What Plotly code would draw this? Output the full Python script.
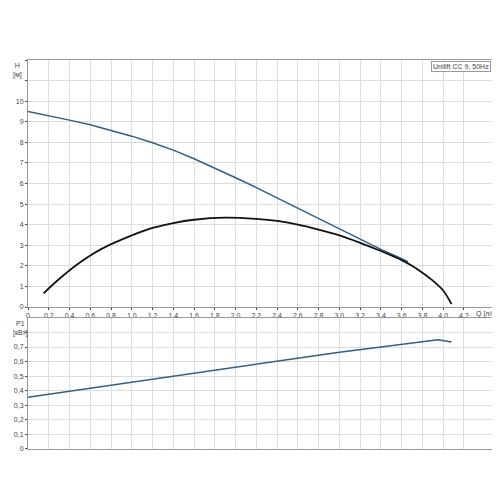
import plotly.graph_objects as go

q_h = [0, 0.2, 0.4, 0.6, 0.8, 1.0, 1.2, 1.4, 1.6, 1.8, 2.0, 2.2, 2.4, 2.6, 2.8, 3.0, 3.2, 3.4, 3.6, 3.66]
h_vals = [9.5, 9.3, 9.08, 8.85, 8.58, 8.3, 7.98, 7.62, 7.2, 6.75, 6.28, 5.8, 5.3, 4.8, 4.3, 3.8, 3.3, 2.8, 2.35, 2.2]

q_eta = [0.15, 0.3, 0.5, 0.7, 1.0, 1.2, 1.4, 1.6, 1.9, 2.2, 2.4, 2.6, 2.8, 3.0, 3.2, 3.4, 3.6, 3.7, 3.8, 3.9, 4.0, 4.08]
eta_vals = [3.3, 6.8, 10.8, 14.0, 17.4, 19.2, 20.4, 21.2, 21.7, 21.4, 20.9, 20.0, 18.8, 17.4, 15.6, 13.6, 11.4, 10.0, 8.3, 6.4, 4.0, 0.7]

q_p = [0, 1.0, 2.0, 3.0, 3.95, 4.08]
p_vals = [0.355, 0.46, 0.565, 0.665, 0.75, 0.735]

xt = [round(0.2 * i, 1) for i in range(22)]
xt_text = [("0" if v == 0 else f"{v:.1f}".replace(".", ",")) for v in xt]

font = dict(family="Liberation Sans, Arial", size=7, color="#444")
fig = go.Figure()
fig.add_trace(go.Scatter(x=q_h, y=h_vals, mode="lines", line=dict(color="#2f5f86", width=1.5), xaxis="x", yaxis="y"))
fig.add_trace(go.Scatter(x=q_eta, y=eta_vals, mode="lines", line=dict(color="#111", width=1.8, shape="spline"), xaxis="x", yaxis="y2"))
fig.add_trace(go.Scatter(x=q_p, y=p_vals, mode="lines", line=dict(color="#2f5f86", width=1.5), xaxis="x2", yaxis="y3"))

grid = dict(showgrid=True, gridcolor="#dcdcdc", gridwidth=1, zeroline=False, showline=True, linecolor="#999", linewidth=1, automargin=False)
fig.update_layout(
    width=500, height=500, showlegend=False, plot_bgcolor="white", paper_bgcolor="white",
    margin=dict(l=20, r=15, t=52, b=59, autoexpand=False), font=font,
    xaxis=dict(range=[0, 4.48], domain=[0, 1], anchor="y", tickvals=xt, ticktext=xt_text, ticks="outside", ticklen=2, mirror=True, **grid),
    yaxis=dict(range=[0, 12], domain=[0.365, 1], tickvals=list(range(0, 13)), ticktext=[str(i) if i <= 10 else "" for i in range(13)], ticks="outside", ticklen=2, **grid),
    yaxis2=dict(range=[0, 60], overlaying="y", side="right", anchor="x", tickvals=[0, 5, 10, 15, 20, 25, 30, 35, 40], showgrid=False, zeroline=False, showline=True, linecolor="#999", ticks="outside", ticklen=3, automargin=False),
    xaxis2=dict(range=[0, 4.48], domain=[0, 1], anchor="y3", tickvals=xt, showticklabels=False, mirror=True, **grid),
    yaxis3=dict(range=[0, 0.9], domain=[0, 0.337], tickvals=[0, 0.1, 0.2, 0.3, 0.4, 0.5, 0.6, 0.7, 0.8], ticktext=["0", "0,1", "0,2", "0,3", "0,4", "0,5", "0,6", "0,7", ""], ticks="outside", ticklen=2, mirror=True, **grid),
    annotations=[
        dict(text="H<br>[м]", x=0, y=1, xref="paper", yref="paper", xanchor="right", yanchor="top", showarrow=False, xshift=-4, font=font),
        dict(text="eta<br>[%]", x=1, y=1, xref="paper", yref="paper", xanchor="left", yanchor="top", showarrow=False, xshift=1, font=font),
        dict(text="P1<br>[кВт]", x=0, y=0.337, xref="paper", yref="paper", xanchor="right", yanchor="top", showarrow=False, xshift=2, font=font),
        dict(text="Q [л/с]", x=4.3, y=0.365, xref="x", yref="paper", xanchor="left", yanchor="top", showarrow=False, yshift=-1, font=font),
        dict(text="Unilift CC 9, 50Hz", x=1, y=1, xref="paper", yref="paper", xanchor="right", yanchor="top", showarrow=False, bordercolor="#999", borderwidth=1, bgcolor="white", font=font, xshift=-2, yshift=-1),
    ],
)
fig.write_html("out.html")
